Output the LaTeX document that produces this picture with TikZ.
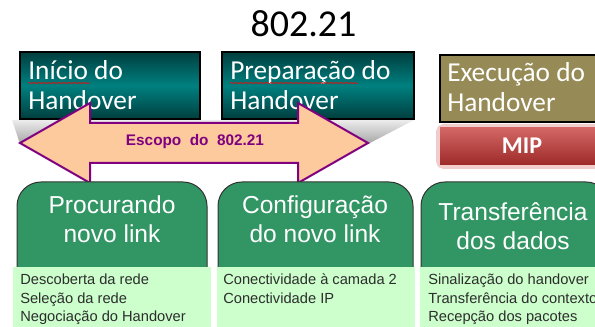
\documentclass[tikz,border=0pt]{standalone}
\usepackage{fontspec}
\setmainfont{Liberation Sans}
\newfontfamily\calibri{Carlito}
\usetikzlibrary{decorations.pathmorphing}

\definecolor{tealdark}{RGB}{0,62,62}
\definecolor{teallight}{RGB}{0,128,128}
\definecolor{olivebox}{RGB}{150,139,86}
\definecolor{mipred}{RGB}{196,52,50}
\definecolor{stepgreen}{RGB}{50,150,100}
\definecolor{palegreen}{RGB}{204,255,204}
\definecolor{scopepurple}{RGB}{128,0,128}
\definecolor{scopepeach}{RGB}{252,202,156}
\definecolor{itemgray}{RGB}{45,45,45}

\begin{document}
\begin{tikzpicture}[x=0.75pt,y=0.75pt,yscale=-1,xscale=1,
  phasetext/.style={anchor=base west,inner sep=0,text=white,font=\calibri\fontsize{20.5}{22}\selectfont},
  steptext/.style={anchor=base,inner sep=0,text=white,font=\fontsize{18.4}{22}\selectfont},
  itemtext/.style={anchor=base west,inner sep=0,text=itemgray,font=\fontsize{11}{13}\selectfont},
  spellmark/.style={red,line width=0.4,decorate,decoration={snake,amplitude=0.5pt,segment length=2.5pt}}]
\useasboundingbox (0,0) rectangle (595,327);

% Text Node
\draw (303.5,37) node (title) [anchor=base,inner sep=0,font=\calibri\fontsize{28.5}{30}\selectfont] {802.21};

%Shape: shadow under the phase boxes
\shade [top color=gray!15,bottom color=gray!70] (12,120) -- (414,120) -- (368,144) -- (20,144) -- cycle ;

%Shape: Rectangle
\shade [top color=tealdark,bottom color=tealdark,middle color=teallight] (20,52) rectangle (200,119) ;
\draw [line width=1] (20,52) rectangle (200,119) ;
%Shape: Rectangle
\shade [top color=tealdark,bottom color=tealdark,middle color=teallight] (222,52) rectangle (414,119) ;
\draw [line width=1] (222,52) rectangle (414,119) ;
%Shape: Rectangle
\fill [olivebox] (440,55) rectangle (600,122) ;
\draw [line width=1] (440,55) rectangle (600,122) ;

%Shape: MIP glow and bar
\draw [mipred!25,line width=6,rounded corners=3] (440,128) rectangle (600,165) ;
\shade [top color=mipred!75!white,bottom color=mipred!80!black] (440,128) rectangle (600,165) ;

% Text Node
\draw (28,80) node (inicioA) [phasetext] {Início do};
\draw (28,110) node (inicioB) [phasetext] {Handover};
\draw (230,80) node (prepA) [phasetext] {Preparação do};
\draw (230,110) node (prepB) [phasetext] {Handover};
\draw (447,82) node (execA) [phasetext] {Execução do};
\draw (447,112) node (execB) [phasetext] {Handover};
\draw [spellmark] (inicioA.base west) ++(0,3) -- ++(62,0) ;
\draw [spellmark] (prepA.base west) ++(0,3) -- ++(128,0) ;
% Text Node
\draw (522,154) node (mip) [anchor=base,inner sep=0,text=white,font=\calibri\bfseries\fontsize{18}{20}\selectfont] {MIP};

%Shape: double arrow
\draw [fill=scopepeach,draw=scopepurple,line width=1.5,line join=miter] (20,143) -- (90,103) -- (90,123) -- (298,123) -- (298,103) -- (368,143) -- (298,183) -- (298,163) -- (90,163) -- (90,183) -- cycle ;
% Text Node
\draw (195,146) node (escopo) [anchor=base,inner sep=0,text=scopepurple,font=\bfseries\fontsize{11.5}{13}\selectfont] {Escopo\ \ do\ \ 802.21};

%Shape: Rounded Rectangle
\draw [fill=stepgreen,draw=black!80,line width=0.75,rounded corners=18] (17,285) -- (17,182) -- (207,182) -- (207,285) ;
\draw [fill=stepgreen,draw=black!80,line width=0.75,rounded corners=18] (218,285) -- (218,182) -- (413,182) -- (413,285) ;
\draw [fill=stepgreen,draw=black!80,line width=0.75,rounded corners=18] (421,285) -- (421,182) -- (610,182) -- (610,285) ;
%Shape: Rectangle
\fill [palegreen] (13,267) rectangle (211,330) ;
\fill [palegreen] (217,267) rectangle (415,330) ;
\fill [palegreen] (420,267) rectangle (600,330) ;

% Text Node
\draw (112,214) node (procA) [steptext] {Procurando};
\draw (112,243) node (procB) [steptext] {novo link};
\draw (315,214) node (confA) [steptext] {Configuração};
\draw (315,243) node (confB) [steptext] {do novo link};
\draw (513,221) node (transA) [steptext] {Transferência};
\draw (513,250) node (transB) [steptext] {dos dados};

% Text Node
\draw (20,285) node (descA) [itemtext] {Descoberta da rede};
\draw (20,303) node (descB) [itemtext] {Seleção da rede};
\draw (20,321) node (descC) [itemtext] {Negociação do Handover};
\draw (223,285) node (conA) [itemtext] {Conectividade à camada 2};
\draw (223,303) node (conB) [itemtext] {Conectividade IP};
\draw (428,285) node (sinA) [itemtext] {Sinalização do handover};
\draw (428,303) node (sinB) [itemtext] {Transferência do contexto};
\draw (428,321) node (sinC) [itemtext] {Recepção dos pacotes};

\end{tikzpicture}
\end{document}
